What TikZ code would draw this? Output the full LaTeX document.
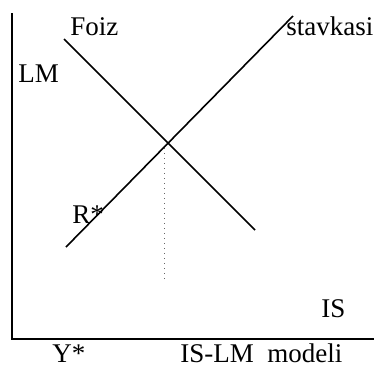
\documentclass[tikz,border=0pt]{standalone}
\usepackage{fontspec}
\setmainfont{Liberation Serif}
\usepackage{tikz}
\usetikzlibrary{positioning,calc}

\begin{document}
\begin{tikzpicture}[
    x=0.5pt, y=-0.5pt,
    axisline/.style={line width=1.1pt, color=black},
    curve/.style={line width=0.8pt, color=black},
    guide/.style={line width=0.5pt, dotted, color=black!60},
    lbl/.style={inner sep=0pt, anchor=base west, font=\fontsize{13.5}{16}\selectfont},
  ]
    \useasboundingbox (0,0) rectangle (379,366);

    % Axes
    \coordinate (top) at (12,13);
    \coordinate (origin) at (12,339);
    \coordinate (right) at (374,339);
    \draw[axisline] (top) -- (origin) -- (right);

    % Falling and rising lines
    \coordinate (fall1) at (64,39);
    \coordinate (fall2) at (255,230);
    \coordinate (rise1) at (66,247);
    \coordinate (rise2) at (293,16);
    \draw[curve] (fall1) -- (fall2);
    \draw[curve] (rise1) -- (rise2);

    % Equilibrium
    \coordinate (eq) at (164,148);
    \coordinate (eqdown) at (164,280);
    \draw[guide] (eq) -- (eqdown);

    % Labels
    \node[lbl] (foiz) at (70,35) {Foiz};
    \node[lbl] (stavka) at (286,35.5) {stavkasi};
    \node[lbl] (lm) at (18,82.5) {LM};
    \node[lbl] (rstar) at (72,223) {R*};
    \node[lbl] (is) at (321,317) {IS};
    \node[lbl] (ystar) at (52,362) {Y*};
    \node[lbl] (title) at (180,362) {IS-LM\hspace{0.5em}modeli};

  \end{tikzpicture}
\end{document}
